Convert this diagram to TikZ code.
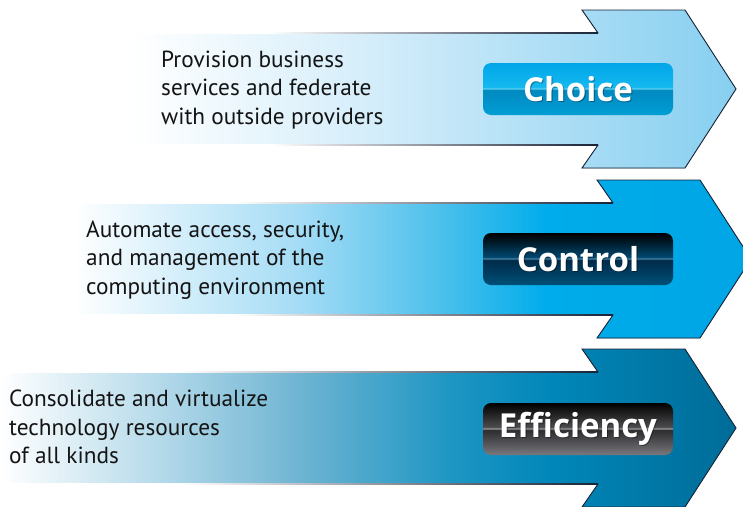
\documentclass[tikz,border=0pt]{standalone}
\usepackage{fontspec}
\setmainfont{PT Sans}
\newfontfamily\btnfont{Open Sans}
\definecolor{outc}{RGB}{25,35,55}
\definecolor{cAend}{RGB}{135,207,240}
\definecolor{cAmid}{RGB}{212,237,250}
\definecolor{cB1}{RGB}{165,220,245}
\definecolor{cB2}{RGB}{70,190,235}
\definecolor{cB3}{RGB}{0,172,235}
\definecolor{cBend}{RGB}{0,165,228}
\definecolor{cC1}{RGB}{185,220,235}
\definecolor{cC2}{RGB}{110,180,210}
\definecolor{cC3}{RGB}{30,150,195}
\definecolor{cC4}{RGB}{0,135,185}
\definecolor{cCend}{RGB}{0,108,152}
% button colours
\definecolor{chTop}{RGB}{0,165,232}
\definecolor{chUp}{RGB}{20,185,240}
\definecolor{chHi}{RGB}{90,205,240}
\definecolor{chLo}{RGB}{0,138,192}
\definecolor{chBot}{RGB}{0,158,212}
\definecolor{coTop}{RGB}{0,0,0}
\definecolor{coUp}{RGB}{0,70,110}
\definecolor{coHi}{RGB}{70,130,165}
\definecolor{coLo}{RGB}{0,42,72}
\definecolor{coBot}{RGB}{0,80,120}
\definecolor{efTop}{RGB}{0,0,0}
\definecolor{efUp}{RGB}{75,75,78}
\definecolor{efHi}{RGB}{150,150,152}
\definecolor{efLo}{RGB}{45,45,48}
\definecolor{efBot}{RGB}{120,120,125}
\pgfdeclarehorizontalshading{shA}{100bp}{color(0bp)=(white); color(25bp)=(white); color(45bp)=(cAmid); color(75bp)=(cAend); color(100bp)=(cAend)}
\pgfdeclarehorizontalshading{shB}{100bp}{color(0bp)=(white); color(25bp)=(white); color(41.7bp)=(cB1); color(52.8bp)=(cB2); color(60bp)=(cB3); color(75bp)=(cBend); color(100bp)=(cBend)}
\pgfdeclarehorizontalshading{shC}{100bp}{color(0bp)=(white); color(25bp)=(white); color(35.2bp)=(cC1); color(45.4bp)=(cC2); color(55.6bp)=(cC3); color(62.4bp)=(cC4); color(75bp)=(cCend); color(100bp)=(cCend)}
\pgfdeclarehorizontalshading{edge}{100bp}{color(0bp)=(white); color(25bp)=(white); color(40bp)=(white); color(75bp)=(outc); color(100bp)=(outc)}
\pgfdeclareverticalshading{btnA}{100bp}{color(0bp)=(chBot); color(25bp)=(chBot); color(49bp)=(chLo); color(50.5bp)=(chHi); color(52bp)=(chUp); color(75bp)=(chTop); color(100bp)=(chTop)}
\pgfdeclareverticalshading{btnB}{100bp}{color(0bp)=(coBot); color(25bp)=(coBot); color(49bp)=(coLo); color(50.5bp)=(coHi); color(52bp)=(coUp); color(75bp)=(coTop); color(100bp)=(coTop)}
\pgfdeclareverticalshading{btnC}{100bp}{color(0bp)=(efBot); color(25bp)=(efBot); color(49bp)=(efLo); color(50.5bp)=(efHi); color(52bp)=(efUp); color(75bp)=(efTop); color(100bp)=(efTop)}
\tikzset{
  outl/.style={draw=outc, line width=0.9pt, line join=miter},
  btn/.style={rounded corners=8pt, minimum width=190pt, minimum height=52pt, inner sep=0pt},
  btnlabel/.style={inner sep=0pt, text=white, font=\btnfont\fontsize{33}{36}\selectfont\bfseries},
  btnshadow/.style={btnlabel, text=black, opacity=0.35},
  body/.style={align=left, anchor=west, inner sep=0pt, text=black!92,
    font=\fontsize{23.3}{28.5}\selectfont}
}
\newcommand{\myarrow}[4]{% #1 band left x, #2 dx, #3 centre y, #4 shading
  \fill[shading=#4] (#1,#3-56) -- (598+#2,#3-56) -- (582+#2,#3-79) -- (685+#2,#3-79)
     -- (736+#2,#3) -- (685+#2,#3+79) -- (582+#2,#3+79) -- (598+#2,#3+56) -- (#1,#3+56) -- cycle;
  \shade[shading=edge] (#1,#3-56.5) rectangle (598+#2,#3-55.5);
  \shade[shading=edge] (#1,#3+55.5) rectangle (598+#2,#3+56.5);
  \draw[outl] (598+#2,#3-56) -- (582+#2,#3-79) -- (685+#2,#3-79) -- (736+#2,#3)
     -- (685+#2,#3+79) -- (582+#2,#3+79) -- (598+#2,#3+56);
}
\begin{document}
\begin{tikzpicture}[x=1pt,y=-1pt]
\useasboundingbox (0,0) rectangle (743,506);
\begin{scope}
\clip (0,0) rectangle (743,506);
\myarrow{130}{0}{89}{shA}
\myarrow{72}{15}{259}{shB}
\myarrow{0}{0}{428}{shC}
\end{scope}

\node[body] (t1) at (161,90) {Provision business\\services and federate\\with outside providers};
\node[body] (t2) at (86,260) {Automate access, security,\\and management of the\\computing environment};
\node[body] (t3) at (9,427) {Consolidate and virtualize\\technology resources\\of all kinds};

\node[btn, shading=btnA] (b1) at (578,89) {};
\node[btnshadow] (s1) at (579,90) {Choice};
\node[btnlabel] (l1) at (b1) {Choice};

\node[btn, shading=btnB] (b2) at (578,259) {};
\node[btnshadow] (s2) at (579,260) {Control};
\node[btnlabel] (l2) at (b2) {Control};

\node[btn, shading=btnC] (b3) at (578,429) {};
\node[btnshadow] (s3) at (579,430) {Efficiency};
\node[btnlabel] (l3) at (b3) {Efficiency};
\end{tikzpicture}
\end{document}
